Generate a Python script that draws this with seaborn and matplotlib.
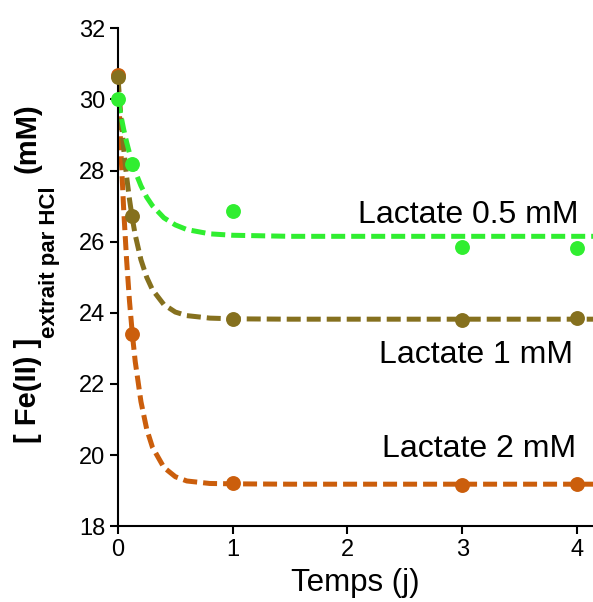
import matplotlib
matplotlib.use("Agg")
import matplotlib.pyplot as plt
import seaborn as sns
import pandas as pd

# measured points
days = [0, 0.125, 1, 3, 4]
fe_05 = [30.0, 28.18, 26.86, 25.85, 25.82]
fe_1 = [30.62, 26.71, 23.82, 23.80, 23.85]
fe_2 = [30.68, 23.41, 19.21, 19.16, 19.19]

# fitted curves
fit_days = [0, 0.025, 0.05, 0.075, 0.1, 0.125, 0.15, 0.2, 0.25, 0.3, 0.4, 0.5, 0.6, 0.8, 1.0, 1.5, 4.14]
fit_05 = [30.0, 29.55, 29.15, 28.80, 28.49, 28.21, 27.97, 27.57, 27.25, 27.01, 26.67, 26.47, 26.34, 26.22, 26.18, 26.15, 26.15]
fit_1 = [30.6, 29.51, 28.60, 27.83, 27.19, 26.65, 26.19, 25.49, 25.00, 24.65, 24.23, 24.02, 23.92, 23.85, 23.83, 23.82, 23.82]
fit_2 = [30.65, 28.57, 26.87, 25.48, 24.33, 23.40, 22.63, 21.50, 20.73, 20.22, 19.65, 19.39, 19.27, 19.20, 19.19, 19.18, 19.18]

labels = ["Lactate 2 mM", "Lactate 1 mM", "Lactate 0.5 mM"]
colors = ["#CB5E0C", "#85701E", "#30EE30"]
label_pos = [(3.99, 20.16), (3.97, 22.81), (4.01, 26.74)]

sns.set_style("ticks")
plt.rcParams["font.family"] = ["Liberation Sans", "DejaVu Sans"]
plt.rcParams.update({"text.color": "black", "axes.labelcolor": "black",
                     "xtick.color": "black", "ytick.color": "black",
                     "axes.edgecolor": "black"})

fig = plt.figure(figsize=(5.93, 6.02), dpi=100)
ax = fig.add_axes([0.199, 0.126, 0.801, 0.827])

series = [(fe_2, fit_2), (fe_1, fit_1), (fe_05, fit_05)]
for (pts, fit), c in zip(series, colors):
    df = pd.DataFrame({"t": fit_days, "fe": fit})
    sns.lineplot(data=df, x="t", y="fe", color=c, lw=3.6, ax=ax)
    ax.lines[-1].set_dashes((2.8, 1.2))
for (pts, fit), c in zip(series, colors):
    df = pd.DataFrame({"t": days, "fe": pts})
    sns.scatterplot(data=df, x="t", y="fe", color=c, s=115, linewidth=0, ax=ax, clip_on=False, zorder=5)

for lab, (x, y) in zip(labels, label_pos):
    ax.text(x, y, lab, ha="right", va="center", fontsize=23)

ax.set_xlim(0, 4.14)
ax.set_ylim(18, 32)
ax.set_xticks([0, 1, 2, 3, 4])
ax.set_yticks(range(18, 33, 2))
ax.tick_params(labelsize=17, width=1.5, length=6, pad=3)
for s in ["left", "bottom"]:
    ax.spines[s].set_linewidth(1.5)
sns.despine(ax=ax)

ax.set_xlabel("Temps (j)", fontsize=22.5, labelpad=5)
ax.set_ylabel("")

fig.text(0.047, 0.352, "[ Fe(II) ]", rotation=90, ha="center", va="center", fontsize=21, fontweight="bold")
fig.text(0.083, 0.565, "extrait par HCl", rotation=90, ha="center", va="center", fontsize=16, fontweight="bold")
fig.text(0.047, 0.771, "(mM)", rotation=90, ha="center", va="center", fontsize=21, fontweight="bold")

fig.savefig("out.png", dpi=100)
